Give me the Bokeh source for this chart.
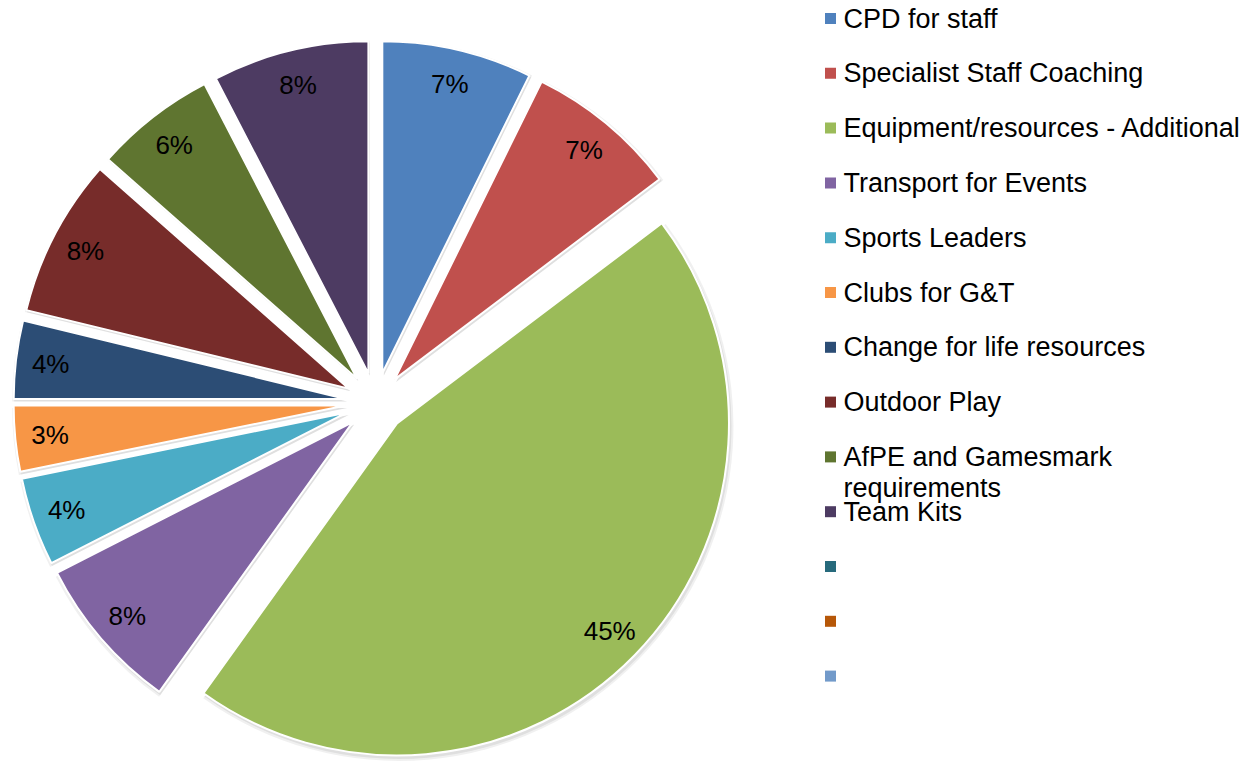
import math
import numpy as np
from bokeh.plotting import figure
from bokeh.models import Range1d, ColumnDataSource
from bokeh.core.properties import value
from bokeh.embed import file_html
from bokeh.resources import INLINE

# ---- data ----
categories = [
    "CPD for staff",
    "Specialist Staff Coaching",
    "Equipment/resources - Additional",
    "Transport for Events",
    "Sports Leaders",
    "Clubs for G&T",
    "Change for life resources",
    "Outdoor Play",
    "AfPE and Gamesmark\nrequirements",
    "Team Kits",
]
values = [7.3, 7.4, 45.2, 7.6, 4.3, 3.2, 3.8, 7.7, 5.9, 7.6]
colors = ["#4F81BD", "#C0504D", "#9BBB59", "#8064A2", "#4BACC6",
          "#F79646", "#2C4D75", "#772C2A", "#5F7530", "#4D3B62"]
extra_legend_labels = ["", "", ""]
extra_legend_colors = ["#276A7C", "#B65708", "#729ACA"]

W, H = 1240, 762
FONT = value("Liberation Sans")

p = figure(width=W, height=H, x_range=Range1d(0, W), y_range=Range1d(0, H),
           output_backend="svg", toolbar_location=None, min_border=0)
p.axis.visible = False
p.grid.visible = False
p.outline_line_color = None
p.background_fill_color = "white"
p.border_fill_color = "white"

# ---- pie geometry ----
cx, cy = 375, H - 402
r = 332
d = 30

vals = np.array(values, dtype=float)
frac = vals / vals.sum()
cum_end = np.cumsum(frac)
cum_start = cum_end - frac
a_start = math.pi / 2 - 2 * math.pi * cum_end
a_end = math.pi / 2 - 2 * math.pi * cum_start
mid = (a_start + a_end) / 2
xs = cx + d * np.cos(mid)
ys = cy + d * np.sin(mid)

src = ColumnDataSource(dict(x=xs, y=ys, a1=a_start, a2=a_end, color=colors,
                            sx=xs + 1.5, sy=ys - 2.5))

# soft shadow
p.wedge(x="sx", y="sy", radius=r + 3, start_angle="a1", end_angle="a2",
        direction="anticlock", fill_color="black", fill_alpha=0.06,
        line_color=None, source=src)
p.wedge(x="sx", y="sy", radius=r + 1, start_angle="a1", end_angle="a2",
        direction="anticlock", fill_color="black", fill_alpha=0.07,
        line_color=None, source=src)

p.wedge(x="x", y="y", radius=r, start_angle="a1", end_angle="a2",
        direction="anticlock", fill_color="color", line_color="white",
        line_width=2, source=src)

# percentage labels
lx = xs + 0.895 * r * np.cos(mid)
ly = ys + 0.895 * r * np.sin(mid)
pct = [f"{int(math.floor(f * 100 + 0.5))}%" for f in frac]
p.text(x=lx, y=ly, text=pct, text_font=FONT, text_font_size="26px",
       text_align="center", text_baseline="middle", text_color="black")

# ---- legend ----
leg_labels = categories + extra_legend_labels
leg_colors = colors + extra_legend_colors
row0, row_step, line_step = 18, 54.8, 31
sq_x, txt_x, sq = 830, 843, 11

sqx, sqy, tx, ty, tt = [], [], [], [], []
for i, (lab, col) in enumerate(zip(leg_labels, leg_colors)):
    sy = row0 + i * row_step
    sqx.append(sq_x)
    sqy.append(H - sy)
    for j, line in enumerate(lab.split("\n")):
        if line:
            tx.append(txt_x)
            ty.append(H - (sy + j * line_step))
            tt.append(line)

p.rect(x=sqx, y=sqy, width=sq, height=sq, fill_color=leg_colors, line_color=None)
p.text(x=tx, y=ty, text=tt, text_font=FONT, text_font_size="27px",
       text_align="left", text_baseline="middle", text_color="black")

open("out.html", "w").write(file_html(p, INLINE))
